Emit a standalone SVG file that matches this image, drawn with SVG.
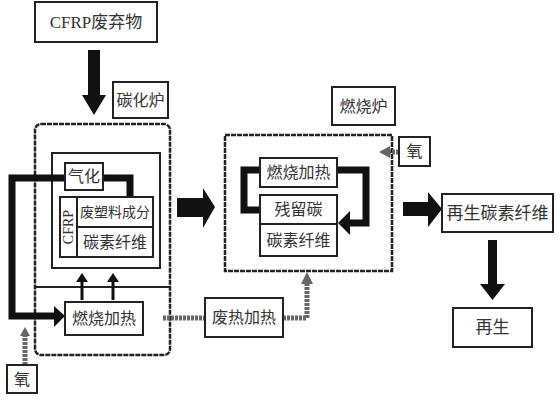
<svg xmlns="http://www.w3.org/2000/svg" width="560" height="401" viewBox="0 0 560 401">
<style>
.box{fill:#fff;stroke:#222;stroke-width:2}
.furn{fill:none;stroke:#222;stroke-width:2.5;stroke-dasharray:5 1}
.t{font-family:"Liberation Serif","Noto Sans CJK SC",serif;fill:#333;text-anchor:middle;dominant-baseline:central}
.thick{fill:none;stroke:#111;stroke-width:7}
.gray{fill:none;stroke:#666;stroke-width:5;stroke-dasharray:3 1}
.thin{fill:none;stroke:#111;stroke-width:3}
</style>
<rect width="560" height="401" fill="#fff"/>
<g id="carbonization-furnace">
<rect class="furn" x="35" y="124" width="135" height="231" rx="6"/>
<line x1="35" y1="287" x2="170" y2="287" stroke="#222" stroke-width="2"/>
<rect x="52" y="153" width="108" height="115" fill="none" stroke="#222" stroke-width="2"/>
</g>
<g id="combustion-furnace">
<rect class="furn" x="225" y="135" width="167" height="136"/>
</g>
<g id="connectors">
<path class="thick" d="M65 178 H12 V316 H55"/>
<polygon points="54,306 65,316 54,327" fill="#111"/>
<path class="thick" d="M103 178 H130 V198"/>
<path class="thin" d="M82 300 V280"/><polygon points="76,282 82,273 88,282" fill="#111"/>
<path class="thin" d="M113 300 V280"/><polygon points="107,282 113,273 119,282" fill="#111"/>
<path class="gray" d="M25 365 V334"/><polygon points="20,336 25,327 30,336" fill="#666"/>
<path class="gray" d="M163 318 H205"/>
<path class="gray" d="M283 318 H307 V282"/><polygon points="301,284 307,272 313,284" fill="#666"/>
<path class="gray" d="M399 152 H388"/><polygon points="390,146 379,152 390,158" fill="#666"/>
<path class="thick" d="M260 170 H244 V210 H260"/>
<path class="thick" d="M337 170 H366 V223 H348"/>
<polygon points="350,211 338,223 350,235" fill="#111"/>
<rect x="88" y="50" width="12" height="46" fill="#111"/><polygon points="82,95 106,95 94,115" fill="#111"/>
<rect x="177" y="198" width="27" height="19" fill="#111"/><polygon points="203,188 215,207 203,228" fill="#111"/>
<rect x="403" y="202" width="27" height="14" fill="#111"/><polygon points="428,192 442,209 428,227" fill="#111"/>
<rect x="488" y="240" width="9" height="46" fill="#111"/><polygon points="480,284 505,284 492.5,300" fill="#111"/>
</g>
<g id="cfrp-waste"><rect class="box" x="35" y="2" width="122" height="40"/><text class="t" x="96" y="22" font-size="17">CFRP废弃物</text></g>
<g id="label-carbonization"><rect class="box" x="113" y="82" width="55" height="36"/><text class="t" x="140.5" y="100" font-size="16">碳化炉</text></g>
<g id="gasify"><rect class="box" x="65" y="163" width="38" height="27"/><text class="t" x="84" y="176.5" font-size="16">气化</text></g>
<g id="cfrp"><rect class="box" x="60" y="197" width="17" height="60"/><text class="t" x="68.5" y="227" font-size="14" transform="rotate(-90 68.5 227)">CFRP</text></g>
<g id="plastic"><rect class="box" x="77" y="197" width="76" height="30"/><text class="t" x="115" y="212" font-size="14">废塑料成分</text></g>
<g id="fiber1"><rect class="box" x="77" y="227" width="76" height="30"/><text class="t" x="115" y="242" font-size="16">碳素纤维</text></g>
<g id="burn1"><rect class="box" x="65" y="302" width="78" height="33"/><text class="t" x="104" y="318.5" font-size="16">燃烧加热</text></g>
<g id="oxygen1"><rect class="box" x="7" y="365" width="30" height="28"/><text class="t" x="22" y="379" font-size="16">氧</text></g>
<g id="waste-heat"><rect class="box" x="205" y="298" width="78" height="39"/><text class="t" x="244" y="317.5" font-size="16">废热加热</text></g>
<g id="label-combustion"><rect class="box" x="332" y="87" width="63" height="38"/><text class="t" x="363.5" y="106" font-size="16">燃烧炉</text></g>
<g id="oxygen2"><rect class="box" x="399" y="137" width="31" height="29"/><text class="t" x="414.5" y="151.5" font-size="16">氧</text></g>
<g id="burn2"><rect class="box" x="260" y="158" width="77" height="29"/><text class="t" x="298.5" y="172.5" font-size="16">燃烧加热</text></g>
<g id="residual"><rect class="box" x="260" y="195" width="77" height="29"/><text class="t" x="298.5" y="209.5" font-size="16">残留碳</text></g>
<g id="fiber2"><rect class="box" x="260" y="224" width="77" height="32"/><text class="t" x="298.5" y="240" font-size="16">碳素纤维</text></g>
<g id="recycled-fiber"><rect class="box" x="442" y="194" width="111" height="38"/><text class="t" x="497.5" y="213" font-size="17">再生碳素纤维</text></g>
<g id="regen"><rect class="box" x="453" y="308" width="79" height="39"/><text class="t" x="492.5" y="327.5" font-size="17">再生</text></g>
</svg>
